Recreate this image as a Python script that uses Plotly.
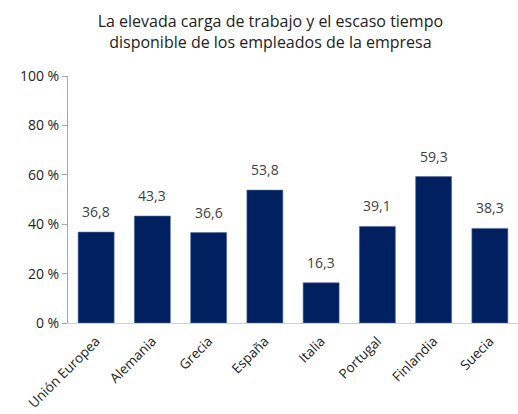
import plotly.graph_objects as go

# Datos
paises = ["Unión Europea", "Alemania", "Grecia", "España", "Italia",
          "Portugal", "Finlandia", "Suecia"]
valores = [36.8, 43.3, 36.6, 53.8, 16.3, 39.1, 59.3, 38.3]
etiquetas = [f"{v:.1f}".replace(".", ",") for v in valores]
ticks_y = [0, 20, 40, 60, 80, 100]
ticks_y_txt = [f"{t} %" for t in ticks_y]

fig = go.Figure(go.Bar(
    x=paises,
    y=valores,
    marker=dict(color="#002060", line=dict(color="#5a6f9a", width=0.6)),
    width=0.64,
    hoverinfo="x+y",
))

# etiquetas de datos sobre las barras
for p, v, t in zip(paises, valores, etiquetas):
    fig.add_annotation(x=p, y=v, text=t, showarrow=False,
                       yanchor="bottom", yshift=9,
                       font=dict(size=14, color="#404040"))

fig.update_layout(
    width=518, height=414,
    margin=dict(l=68, r=0, t=76, b=91, autoexpand=False),
    paper_bgcolor="white",
    plot_bgcolor="white",
    font=dict(family="Open Sans, Liberation Sans, sans-serif", color="#222222"),
    title=dict(
        text="La elevada carga de trabajo y el escaso tiempo<br>disponible de los empleados de la empresa",
        x=0.522, xanchor="center", y=0.935, yanchor="top",
        font=dict(size=16, color="#222222"),
    ),
    showlegend=False,
)

fig.update_yaxes(
    range=[0, 100], tickvals=ticks_y, ticktext=ticks_y_txt,
    showgrid=False, zeroline=False, automargin=False,
    showline=True, linecolor="#a6a6a6", linewidth=1,
    ticks="outside", ticklen=5, tickcolor="#a6a6a6",
    tickfont=dict(size=14, color="#222222"),
)
fig.update_xaxes(
    showline=True, linecolor="#d0d0d0", linewidth=1,
    tickangle=-45, ticks="", automargin=False, ticklabelstandoff=4,
    tickfont=dict(size=13.5, color="#222222"),
)

# quitar el margen por defecto del body
fig.write_html("out.html", config={"displayModeBar": False},
               post_script="document.body.style.margin='0';")
